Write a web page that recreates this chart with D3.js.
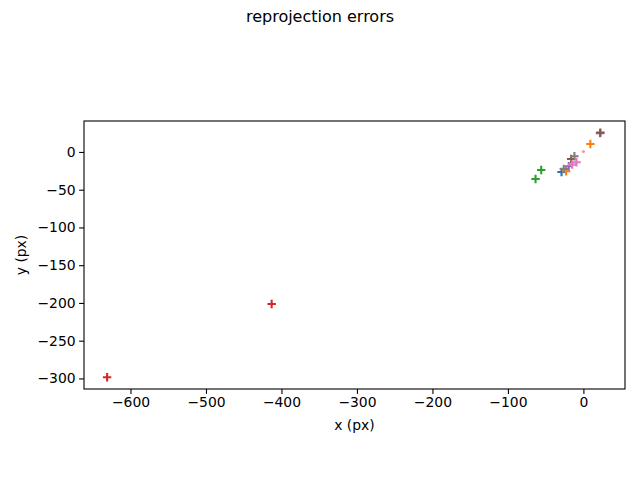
<!DOCTYPE html>
<html><head><meta charset="utf-8">
<script src="https://cdn.jsdelivr.net/npm/d3@7"></script>
<style>body{margin:0;background:#fff}svg{display:block;font-family:"DejaVu Sans",sans-serif}</style>
</head><body><svg id="c" width="640" height="480"></svg>
<script>
const seriesColors = ["#1f77b4","#ff7f0e","#2ca02c","#d62728","#9467bd","#8c564b","#e377c2","#7f7f7f"];
const seriesX = [
  [-29],
  [9.2, -22.9],
  [-55.9, -63.4],
  [-413, -631],
  [22, -19.4],
  [22.5, -16.2],
  [-9.2, -14.9],
  [-11.9, -26]
];
const seriesY = [
  [-26.5],
  [10.6, -25.6],
  [-23.9, -35.8],
  [-201.5, -298.4],
  [25, -19],
  [25.6, -9.3],
  [-13.7, -16.8],
  [-5.7, -22.5]
];
const originPoint = [0, 0.5];
const xTicks = [-600,-500,-400,-300,-200,-100,0];
const yTicks = [0,-50,-100,-150,-200,-250,-300];
const xDomain = [-661.6, 55.1];
const yDomain = [-314, 41];

const svg = d3.select("#c");
const L=84, R=625, T=121, B=389;
const x = d3.scaleLinear().domain(xDomain).range([L,R]);
const y = d3.scaleLinear().domain(yDomain).range([B,T]);

svg.append("text").attr("x",320).attr("y",22).attr("text-anchor","middle")
  .attr("font-size","16px").text("reprojection errors");

const xa = svg.append("g").attr("transform",`translate(0,${B})`)
  .call(d3.axisBottom(x).tickValues(xTicks).tickSize(4.9).tickPadding(3.5).tickFormat(d=>d<0?"\u2212"+(-d):d));
const ya = svg.append("g").attr("transform",`translate(${L},0)`)
  .call(d3.axisLeft(y).tickValues(yTicks).tickSize(4.9).tickPadding(3.5).tickFormat(d=>d<0?"\u2212"+(-d):d));
[xa,ya].forEach(a=>{a.select(".domain").remove();a.selectAll("text").attr("font-size","13.9px").attr("fill","#000").attr("font-family","DejaVu Sans");a.selectAll("line").attr("stroke","#000").attr("stroke-width",1.1);});

svg.append("rect").attr("x",L).attr("y",T).attr("width",R-L).attr("height",B-T)
  .attr("fill","none").attr("stroke","#000").attr("stroke-width",1.1);

svg.append("text").attr("x",(L+R)/2).attr("y",430).attr("text-anchor","middle")
  .attr("font-size","13.9px").text("x (px)");
svg.append("text").attr("transform",`translate(26,${(T+B)/2}) rotate(-90)`).attr("text-anchor","middle")
  .attr("font-size","13.9px").text("y (px)");

const h = 4.2;
const g = svg.append("g");
seriesX.forEach((xs,i)=>{
  xs.forEach((xv,j)=>{
    const cx=x(xv), cy=y(seriesY[i][j]);
    g.append("path").attr("d",`M${cx-h},${cy}H${cx+h}M${cx},${cy-h}V${cy+h}`)
      .attr("stroke",seriesColors[i]).attr("stroke-width",2.1).attr("fill","none");
  });
});
g.append("circle").attr("cx",x(originPoint[0])).attr("cy",y(originPoint[1])).attr("r",1.6)
  .attr("fill","#f5a0a0");
</script></body></html>
